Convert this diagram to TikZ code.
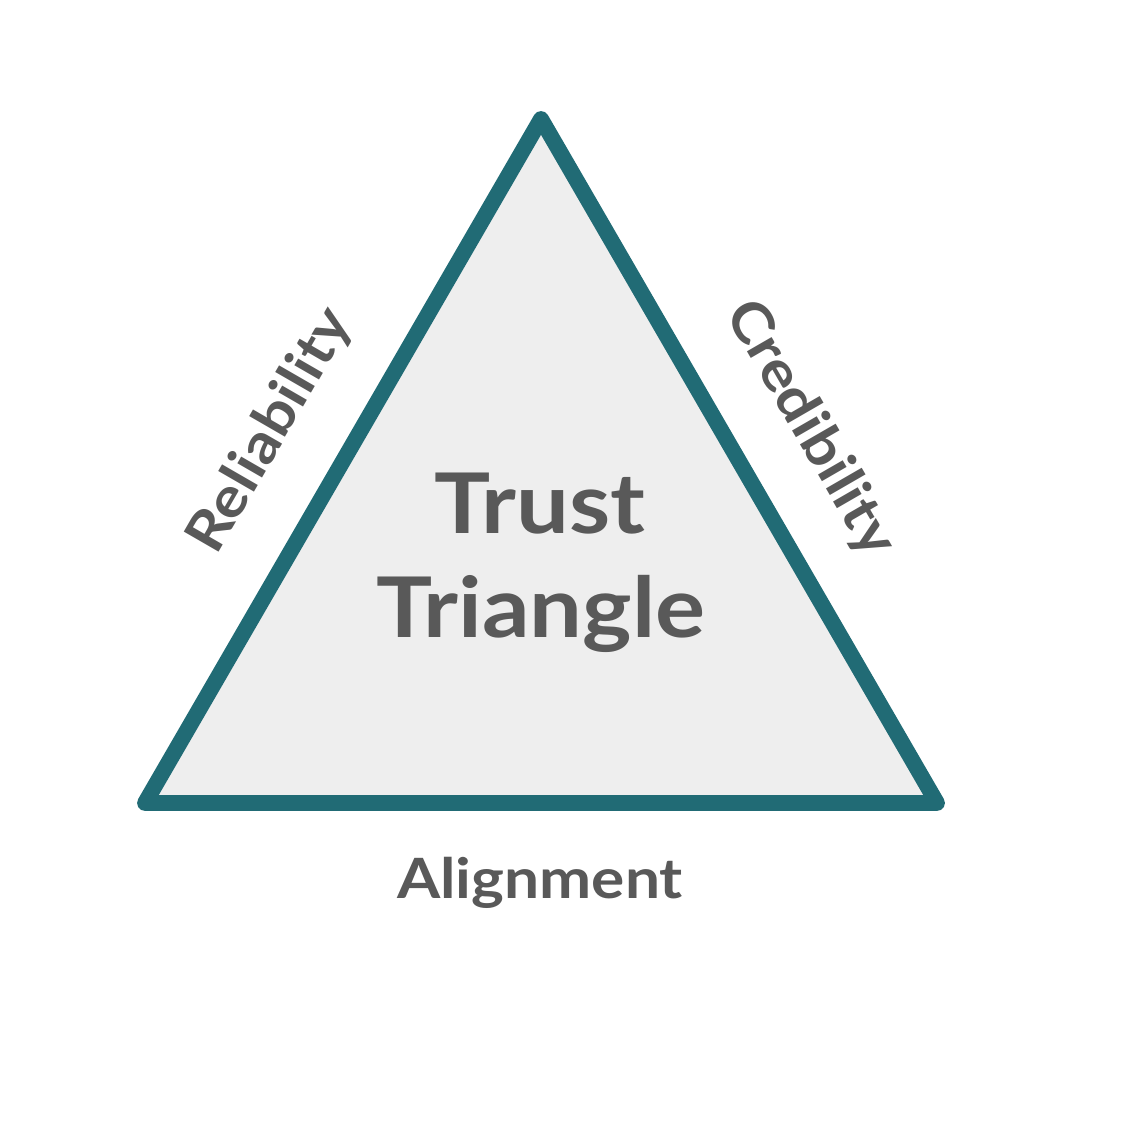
\documentclass[tikz,border=0pt]{standalone}
\usepackage{fontspec}
\setmainfont{Lato}[FakeStretch=1.12]
\definecolor{teal}{HTML}{216B75}
\definecolor{txt}{HTML}{595959}
\definecolor{fillg}{HTML}{EEEEEE}
\begin{document}
\begin{tikzpicture}[x=0.01cm,y=-0.01cm,
  lbl/.style={text=txt,font=\fontsize{15.8}{19}\selectfont\bfseries,inner sep=0pt},
  big/.style={text=txt,font=\fontsize{23.8}{28}\selectfont\bfseries,inner sep=0pt,anchor=base},
  edge/.style={draw=teal,fill=fillg,line width=4.5pt,line join=round}]
\useasboundingbox (0,0) rectangle (1131,1131);
\coordinate (top) at (541,119);
\coordinate (bl) at (145,803);
\coordinate (br) at (937,803);
\path[edge] (top) -- (bl) -- (br) -- cycle;
\node[big] (t1) at (540,533) {Trust};
\node[big] (t2) at (541,637) {Triangle};
\node[lbl,anchor=base] (al) at (540,898) {Alignment};
\node[lbl,rotate=60] (re) at (271,431) {Reliability};
\node[lbl,rotate=-60] (cr) at (810,429) {Credibility};
\end{tikzpicture}
\end{document}
